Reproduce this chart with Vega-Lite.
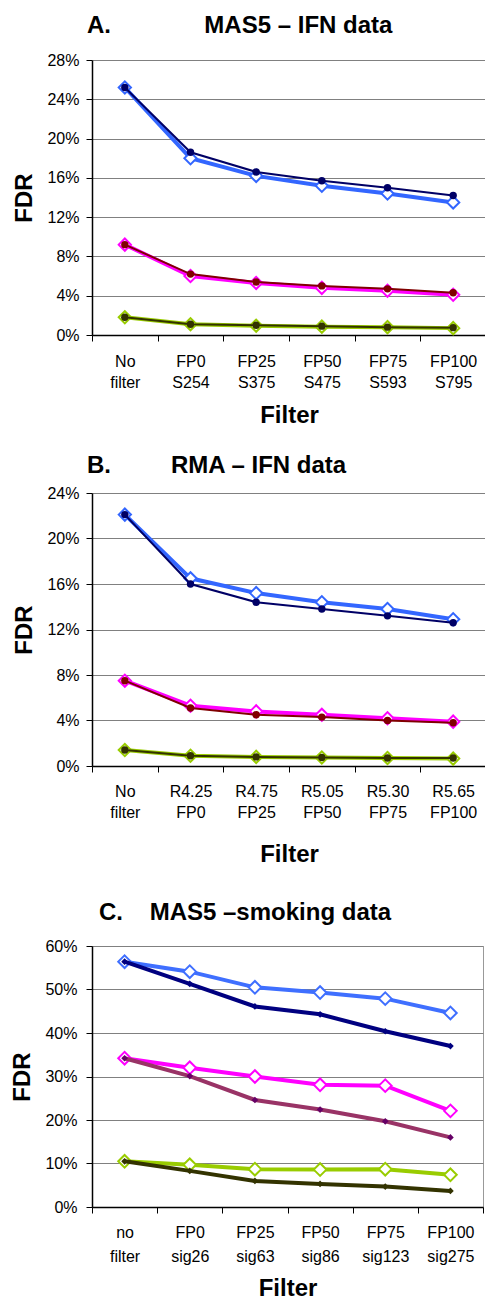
{
  "$schema": "https://vega.github.io/schema/vega-lite/v6.json",
  "background": "white",
  "padding": {"left": 10, "top": 14, "right": 0, "bottom": 0},
  "spacing": 34,
  "config": {
    "font": "Liberation Sans",
    "view": {"stroke": null},
    "title": {"font": "Liberation Sans", "fontSize": 24, "fontWeight": "bold", "color": "black", "anchor": "start", "frame": "group"},
    "axis": {"labelFont": "Liberation Sans", "labelFontSize": 16, "labelColor": "black", "titleFont": "Liberation Sans", "titleFontSize": 24, "titleFontWeight": "bold", "titleColor": "black", "domainColor": "black", "domainWidth": 1.5, "tickColor": "black", "tickSize": 6, "gridColor": "#808080", "gridWidth": 1}
  },
  "data": {"values": [
    {"p":"A","f":"No filter","s":"1a","k":"a","v":0.252},
    {"p":"A","f":"FP0 S254","s":"1a","k":"a","v":0.186},
    {"p":"A","f":"FP25 S375","s":"1a","k":"a","v":0.166},
    {"p":"A","f":"FP50 S475","s":"1a","k":"a","v":0.157},
    {"p":"A","f":"FP75 S593","s":"1a","k":"a","v":0.150},
    {"p":"A","f":"FP100 S795","s":"1a","k":"a","v":0.142},
    {"p":"A","f":"No filter","s":"1b","k":"b","v":0.252},
    {"p":"A","f":"FP0 S254","s":"1b","k":"b","v":0.180},
    {"p":"A","f":"FP25 S375","s":"1b","k":"b","v":0.162},
    {"p":"A","f":"FP50 S475","s":"1b","k":"b","v":0.152},
    {"p":"A","f":"FP75 S593","s":"1b","k":"b","v":0.144},
    {"p":"A","f":"FP100 S795","s":"1b","k":"b","v":0.135},
    {"p":"A","f":"No filter","s":"2a","k":"a","v":0.092},
    {"p":"A","f":"FP0 S254","s":"2a","k":"a","v":0.062},
    {"p":"A","f":"FP25 S375","s":"2a","k":"a","v":0.054},
    {"p":"A","f":"FP50 S475","s":"2a","k":"a","v":0.050},
    {"p":"A","f":"FP75 S593","s":"2a","k":"a","v":0.047},
    {"p":"A","f":"FP100 S795","s":"2a","k":"a","v":0.043},
    {"p":"A","f":"No filter","s":"2b","k":"b","v":0.092},
    {"p":"A","f":"FP0 S254","s":"2b","k":"b","v":0.060},
    {"p":"A","f":"FP25 S375","s":"2b","k":"b","v":0.053},
    {"p":"A","f":"FP50 S475","s":"2b","k":"b","v":0.048},
    {"p":"A","f":"FP75 S593","s":"2b","k":"b","v":0.045},
    {"p":"A","f":"FP100 S795","s":"2b","k":"b","v":0.041},
    {"p":"A","f":"No filter","s":"3a","k":"a","v":0.018},
    {"p":"A","f":"FP0 S254","s":"3a","k":"a","v":0.011},
    {"p":"A","f":"FP25 S375","s":"3a","k":"a","v":0.010},
    {"p":"A","f":"FP50 S475","s":"3a","k":"a","v":0.009},
    {"p":"A","f":"FP75 S593","s":"3a","k":"a","v":0.008},
    {"p":"A","f":"FP100 S795","s":"3a","k":"a","v":0.0075},
    {"p":"A","f":"No filter","s":"3b","k":"b","v":0.018},
    {"p":"A","f":"FP0 S254","s":"3b","k":"b","v":0.011},
    {"p":"A","f":"FP25 S375","s":"3b","k":"b","v":0.0095},
    {"p":"A","f":"FP50 S475","s":"3b","k":"b","v":0.0085},
    {"p":"A","f":"FP75 S593","s":"3b","k":"b","v":0.008},
    {"p":"A","f":"FP100 S795","s":"3b","k":"b","v":0.007},

    {"p":"B","f":"No filter","s":"1a","k":"a","v":0.221},
    {"p":"B","f":"R4.25 FP0","s":"1a","k":"a","v":0.160},
    {"p":"B","f":"R4.75 FP25","s":"1a","k":"a","v":0.144},
    {"p":"B","f":"R5.05 FP50","s":"1a","k":"a","v":0.138},
    {"p":"B","f":"R5.30 FP75","s":"1a","k":"a","v":0.132},
    {"p":"B","f":"R5.65 FP100","s":"1a","k":"a","v":0.126},
    {"p":"B","f":"No filter","s":"1b","k":"b","v":0.221},
    {"p":"B","f":"R4.25 FP0","s":"1b","k":"b","v":0.165},
    {"p":"B","f":"R4.75 FP25","s":"1b","k":"b","v":0.152},
    {"p":"B","f":"R5.05 FP50","s":"1b","k":"b","v":0.144},
    {"p":"B","f":"R5.30 FP75","s":"1b","k":"b","v":0.138},
    {"p":"B","f":"R5.65 FP100","s":"1b","k":"b","v":0.129},
    {"p":"B","f":"No filter","s":"2a","k":"a","v":0.075},
    {"p":"B","f":"R4.25 FP0","s":"2a","k":"a","v":0.051},
    {"p":"B","f":"R4.75 FP25","s":"2a","k":"a","v":0.045},
    {"p":"B","f":"R5.05 FP50","s":"2a","k":"a","v":0.043},
    {"p":"B","f":"R5.30 FP75","s":"2a","k":"a","v":0.040},
    {"p":"B","f":"R5.65 FP100","s":"2a","k":"a","v":0.038},
    {"p":"B","f":"No filter","s":"2b","k":"b","v":0.075},
    {"p":"B","f":"R4.25 FP0","s":"2b","k":"b","v":0.053},
    {"p":"B","f":"R4.75 FP25","s":"2b","k":"b","v":0.048},
    {"p":"B","f":"R5.05 FP50","s":"2b","k":"b","v":0.045},
    {"p":"B","f":"R5.30 FP75","s":"2b","k":"b","v":0.042},
    {"p":"B","f":"R5.65 FP100","s":"2b","k":"b","v":0.039},
    {"p":"B","f":"No filter","s":"3a","k":"a","v":0.014},
    {"p":"B","f":"R4.25 FP0","s":"3a","k":"a","v":0.009},
    {"p":"B","f":"R4.75 FP25","s":"3a","k":"a","v":0.008},
    {"p":"B","f":"R5.05 FP50","s":"3a","k":"a","v":0.0075},
    {"p":"B","f":"R5.30 FP75","s":"3a","k":"a","v":0.007},
    {"p":"B","f":"R5.65 FP100","s":"3a","k":"a","v":0.007},
    {"p":"B","f":"No filter","s":"3b","k":"b","v":0.014},
    {"p":"B","f":"R4.25 FP0","s":"3b","k":"b","v":0.009},
    {"p":"B","f":"R4.75 FP25","s":"3b","k":"b","v":0.008},
    {"p":"B","f":"R5.05 FP50","s":"3b","k":"b","v":0.0075},
    {"p":"B","f":"R5.30 FP75","s":"3b","k":"b","v":0.007},
    {"p":"B","f":"R5.65 FP100","s":"3b","k":"b","v":0.0065},

    {"p":"C","f":"no filter","s":"1a","k":"a","v":0.564},
    {"p":"C","f":"FP0 sig26","s":"1a","k":"a","v":0.513},
    {"p":"C","f":"FP25 sig63","s":"1a","k":"a","v":0.461},
    {"p":"C","f":"FP50 sig86","s":"1a","k":"a","v":0.443},
    {"p":"C","f":"FP75 sig123","s":"1a","k":"a","v":0.404},
    {"p":"C","f":"FP100 sig275","s":"1a","k":"a","v":0.370},
    {"p":"C","f":"no filter","s":"1b","k":"b","v":0.564},
    {"p":"C","f":"FP0 sig26","s":"1b","k":"b","v":0.541},
    {"p":"C","f":"FP25 sig63","s":"1b","k":"b","v":0.505},
    {"p":"C","f":"FP50 sig86","s":"1b","k":"b","v":0.493},
    {"p":"C","f":"FP75 sig123","s":"1b","k":"b","v":0.479},
    {"p":"C","f":"FP100 sig275","s":"1b","k":"b","v":0.446},
    {"p":"C","f":"no filter","s":"2a","k":"a","v":0.342},
    {"p":"C","f":"FP0 sig26","s":"2a","k":"a","v":0.301},
    {"p":"C","f":"FP25 sig63","s":"2a","k":"a","v":0.246},
    {"p":"C","f":"FP50 sig86","s":"2a","k":"a","v":0.224},
    {"p":"C","f":"FP75 sig123","s":"2a","k":"a","v":0.197},
    {"p":"C","f":"FP100 sig275","s":"2a","k":"a","v":0.160},
    {"p":"C","f":"no filter","s":"2b","k":"b","v":0.342},
    {"p":"C","f":"FP0 sig26","s":"2b","k":"b","v":0.320},
    {"p":"C","f":"FP25 sig63","s":"2b","k":"b","v":0.300},
    {"p":"C","f":"FP50 sig86","s":"2b","k":"b","v":0.281},
    {"p":"C","f":"FP75 sig123","s":"2b","k":"b","v":0.279},
    {"p":"C","f":"FP100 sig275","s":"2b","k":"b","v":0.221},
    {"p":"C","f":"no filter","s":"3a","k":"a","v":0.105},
    {"p":"C","f":"FP0 sig26","s":"3a","k":"a","v":0.083},
    {"p":"C","f":"FP25 sig63","s":"3a","k":"a","v":0.060},
    {"p":"C","f":"FP50 sig86","s":"3a","k":"a","v":0.053},
    {"p":"C","f":"FP75 sig123","s":"3a","k":"a","v":0.047},
    {"p":"C","f":"FP100 sig275","s":"3a","k":"a","v":0.037},
    {"p":"C","f":"no filter","s":"3b","k":"b","v":0.105},
    {"p":"C","f":"FP0 sig26","s":"3b","k":"b","v":0.097},
    {"p":"C","f":"FP25 sig63","s":"3b","k":"b","v":0.087},
    {"p":"C","f":"FP50 sig86","s":"3b","k":"b","v":0.086},
    {"p":"C","f":"FP75 sig123","s":"3b","k":"b","v":0.087},
    {"p":"C","f":"FP100 sig275","s":"3b","k":"b","v":0.074}
  ]},
  "resolve": {"scale": {"x": "independent", "y": "independent", "stroke": "independent", "fill": "independent"}},
  "vconcat": [
    {
      "spacing": 27,
      "resolve": {"scale": {"x": "independent", "y": "independent", "stroke": "independent", "fill": "independent"}},
      "vconcat": [
        {
          "title": {"text": "A.\u00a0\u00a0\u00a0\u00a0\u00a0\u00a0\u00a0\u00a0\u00a0\u00a0\u00a0\u00a0\u00a0\u00a0MAS5 – IFN data", "dx": -5, "offset": 14},
          "width": 394, "height": 275,
          "transform": [{"filter": "datum.p === 'A'"}],
          "encoding": {
            "x": {"field": "f", "type": "nominal", "sort": null, "bandPosition": 0.5,
                  "scale": {"type": "band", "paddingInner": 0, "paddingOuter": 0},
                  "axis": {"title": "Filter", "labelAngle": 0, "labelExpr": "split(datum.label, ' ')", "labelLineHeight": 21, "labelPadding": 12, "tickBand": "extent", "grid": false, "titlePadding": 13}},
            "y": {"field": "v", "type": "quantitative",
                  "scale": {"domain": [0, 0.28], "nice": false},
                  "axis": {"title": "FDR", "format": ".0%", "values": [0, 0.04, 0.08, 0.12, 0.16, 0.2, 0.24, 0.28], "labelPadding": 7, "titlePadding": 10, "grid": true}}
          },
          "layer": [
            {"transform": [{"filter": "datum.k === 'b'"}], "mark": {"type": "line", "strokeWidth": 4},
             "encoding": {"stroke": {"field": "s", "type": "nominal", "legend": null, "scale": {"domain": ["1a","1b","2a","2b","3a","3b"], "range": ["#000066","#3366FF","#800000","#FF00FF","#333300","#99CC00"]}}}},
            {"transform": [{"filter": "datum.k === 'b'"}], "mark": {"type": "point", "shape": "diamond", "size": 150, "strokeWidth": 2, "filled": true, "fill": "white", "opacity": 1},
             "encoding": {"stroke": {"field": "s", "type": "nominal", "legend": null}}},
            {"transform": [{"filter": "datum.k === 'a'"}], "mark": {"type": "line", "strokeWidth": 2},
             "encoding": {"stroke": {"field": "s", "type": "nominal", "legend": null}}},
            {"transform": [{"filter": "datum.k === 'a'"}], "mark": {"type": "point", "shape": "circle", "size": 55, "filled": true, "opacity": 1},
             "encoding": {"fill": {"field": "s", "type": "nominal", "legend": null, "scale": {"domain": ["1a","2a","3a"], "range": ["#000066","#800000","#333300"]}}}}
          ]
        },
        {
          "title": {"text": "B.\u00a0\u00a0\u00a0\u00a0\u00a0\u00a0\u00a0\u00a0\u00a0RMA – IFN data", "dx": -5, "offset": 7},
          "width": 394, "height": 273,
          "transform": [{"filter": "datum.p === 'B'"}],
          "encoding": {
            "x": {"field": "f", "type": "nominal", "sort": null, "bandPosition": 0.5,
                  "scale": {"type": "band", "paddingInner": 0, "paddingOuter": 0},
                  "axis": {"title": "Filter", "labelAngle": 0, "labelExpr": "split(datum.label, ' ')", "labelLineHeight": 21, "labelPadding": 11, "tickBand": "extent", "grid": false, "titlePadding": 22}},
            "y": {"field": "v", "type": "quantitative",
                  "scale": {"domain": [0, 0.24], "nice": false},
                  "axis": {"title": "FDR", "format": ".0%", "values": [0, 0.04, 0.08, 0.12, 0.16, 0.2, 0.24], "labelPadding": 7, "titlePadding": 10, "grid": true}}
          },
          "layer": [
            {"transform": [{"filter": "datum.k === 'b'"}], "mark": {"type": "line", "strokeWidth": 4},
             "encoding": {"stroke": {"field": "s", "type": "nominal", "legend": null, "scale": {"domain": ["1a","1b","2a","2b","3a","3b"], "range": ["#000066","#3366FF","#800000","#FF00FF","#333300","#99CC00"]}}}},
            {"transform": [{"filter": "datum.k === 'b'"}], "mark": {"type": "point", "shape": "diamond", "size": 150, "strokeWidth": 2, "filled": true, "fill": "white", "opacity": 1},
             "encoding": {"stroke": {"field": "s", "type": "nominal", "legend": null}}},
            {"transform": [{"filter": "datum.k === 'a'"}], "mark": {"type": "line", "strokeWidth": 2},
             "encoding": {"stroke": {"field": "s", "type": "nominal", "legend": null}}},
            {"transform": [{"filter": "datum.k === 'a'"}], "mark": {"type": "point", "shape": "circle", "size": 55, "filled": true, "opacity": 1},
             "encoding": {"fill": {"field": "s", "type": "nominal", "legend": null, "scale": {"domain": ["1a","2a","3a"], "range": ["#000066","#800000","#333300"]}}}}
          ]
        }
      ]
    },
    {
      "title": {"text": "C.\u00a0\u00a0\u00a0\u00a0MAS5 –smoking data", "dx": 7, "offset": 13},
      "width": 391, "height": 261,
      "view": {"stroke": "#999999"},
      "transform": [{"filter": "datum.p === 'C'"}],
      "encoding": {
        "x": {"field": "f", "type": "nominal", "sort": null, "bandPosition": 0.5,
              "scale": {"type": "band", "paddingInner": 0, "paddingOuter": 0},
              "axis": {"title": "Filter", "labelAngle": 0, "labelExpr": "split(datum.label, ' ')", "labelLineHeight": 24, "labelPadding": 11, "tickBand": "extent", "grid": false, "titlePadding": 12}},
        "y": {"field": "v", "type": "quantitative",
              "scale": {"domain": [0, 0.6], "nice": false},
              "axis": {"title": "FDR", "format": ".0%", "values": [0, 0.1, 0.2, 0.3, 0.4, 0.5, 0.6], "labelPadding": 9, "titlePadding": 10, "grid": true}}
      },
      "layer": [
        {"transform": [{"filter": "datum.k === 'b'"}], "mark": {"type": "line", "strokeWidth": 4},
         "encoding": {"stroke": {"field": "s", "type": "nominal", "legend": null, "scale": {"domain": ["1a","1b","2a","2b","3a","3b"], "range": ["#000080","#3F6FFF","#993366","#FF00FF","#333300","#99CC00"]}}}},
        {"transform": [{"filter": "datum.k === 'b'"}], "mark": {"type": "point", "shape": "diamond", "size": 160, "strokeWidth": 2, "filled": true, "fill": "white", "opacity": 1},
         "encoding": {"stroke": {"field": "s", "type": "nominal", "legend": null}}},
        {"transform": [{"filter": "datum.k === 'a'"}], "mark": {"type": "line", "strokeWidth": 4},
         "encoding": {"stroke": {"field": "s", "type": "nominal", "legend": null}}},
        {"transform": [{"filter": "datum.k === 'a'"}], "mark": {"type": "point", "shape": "diamond", "size": 45, "filled": true, "opacity": 1},
         "encoding": {"fill": {"field": "s", "type": "nominal", "legend": null, "scale": {"domain": ["1a","2a","3a"], "range": ["#000080","#660066","#333300"]}}}}
      ]
    }
  ]
}
